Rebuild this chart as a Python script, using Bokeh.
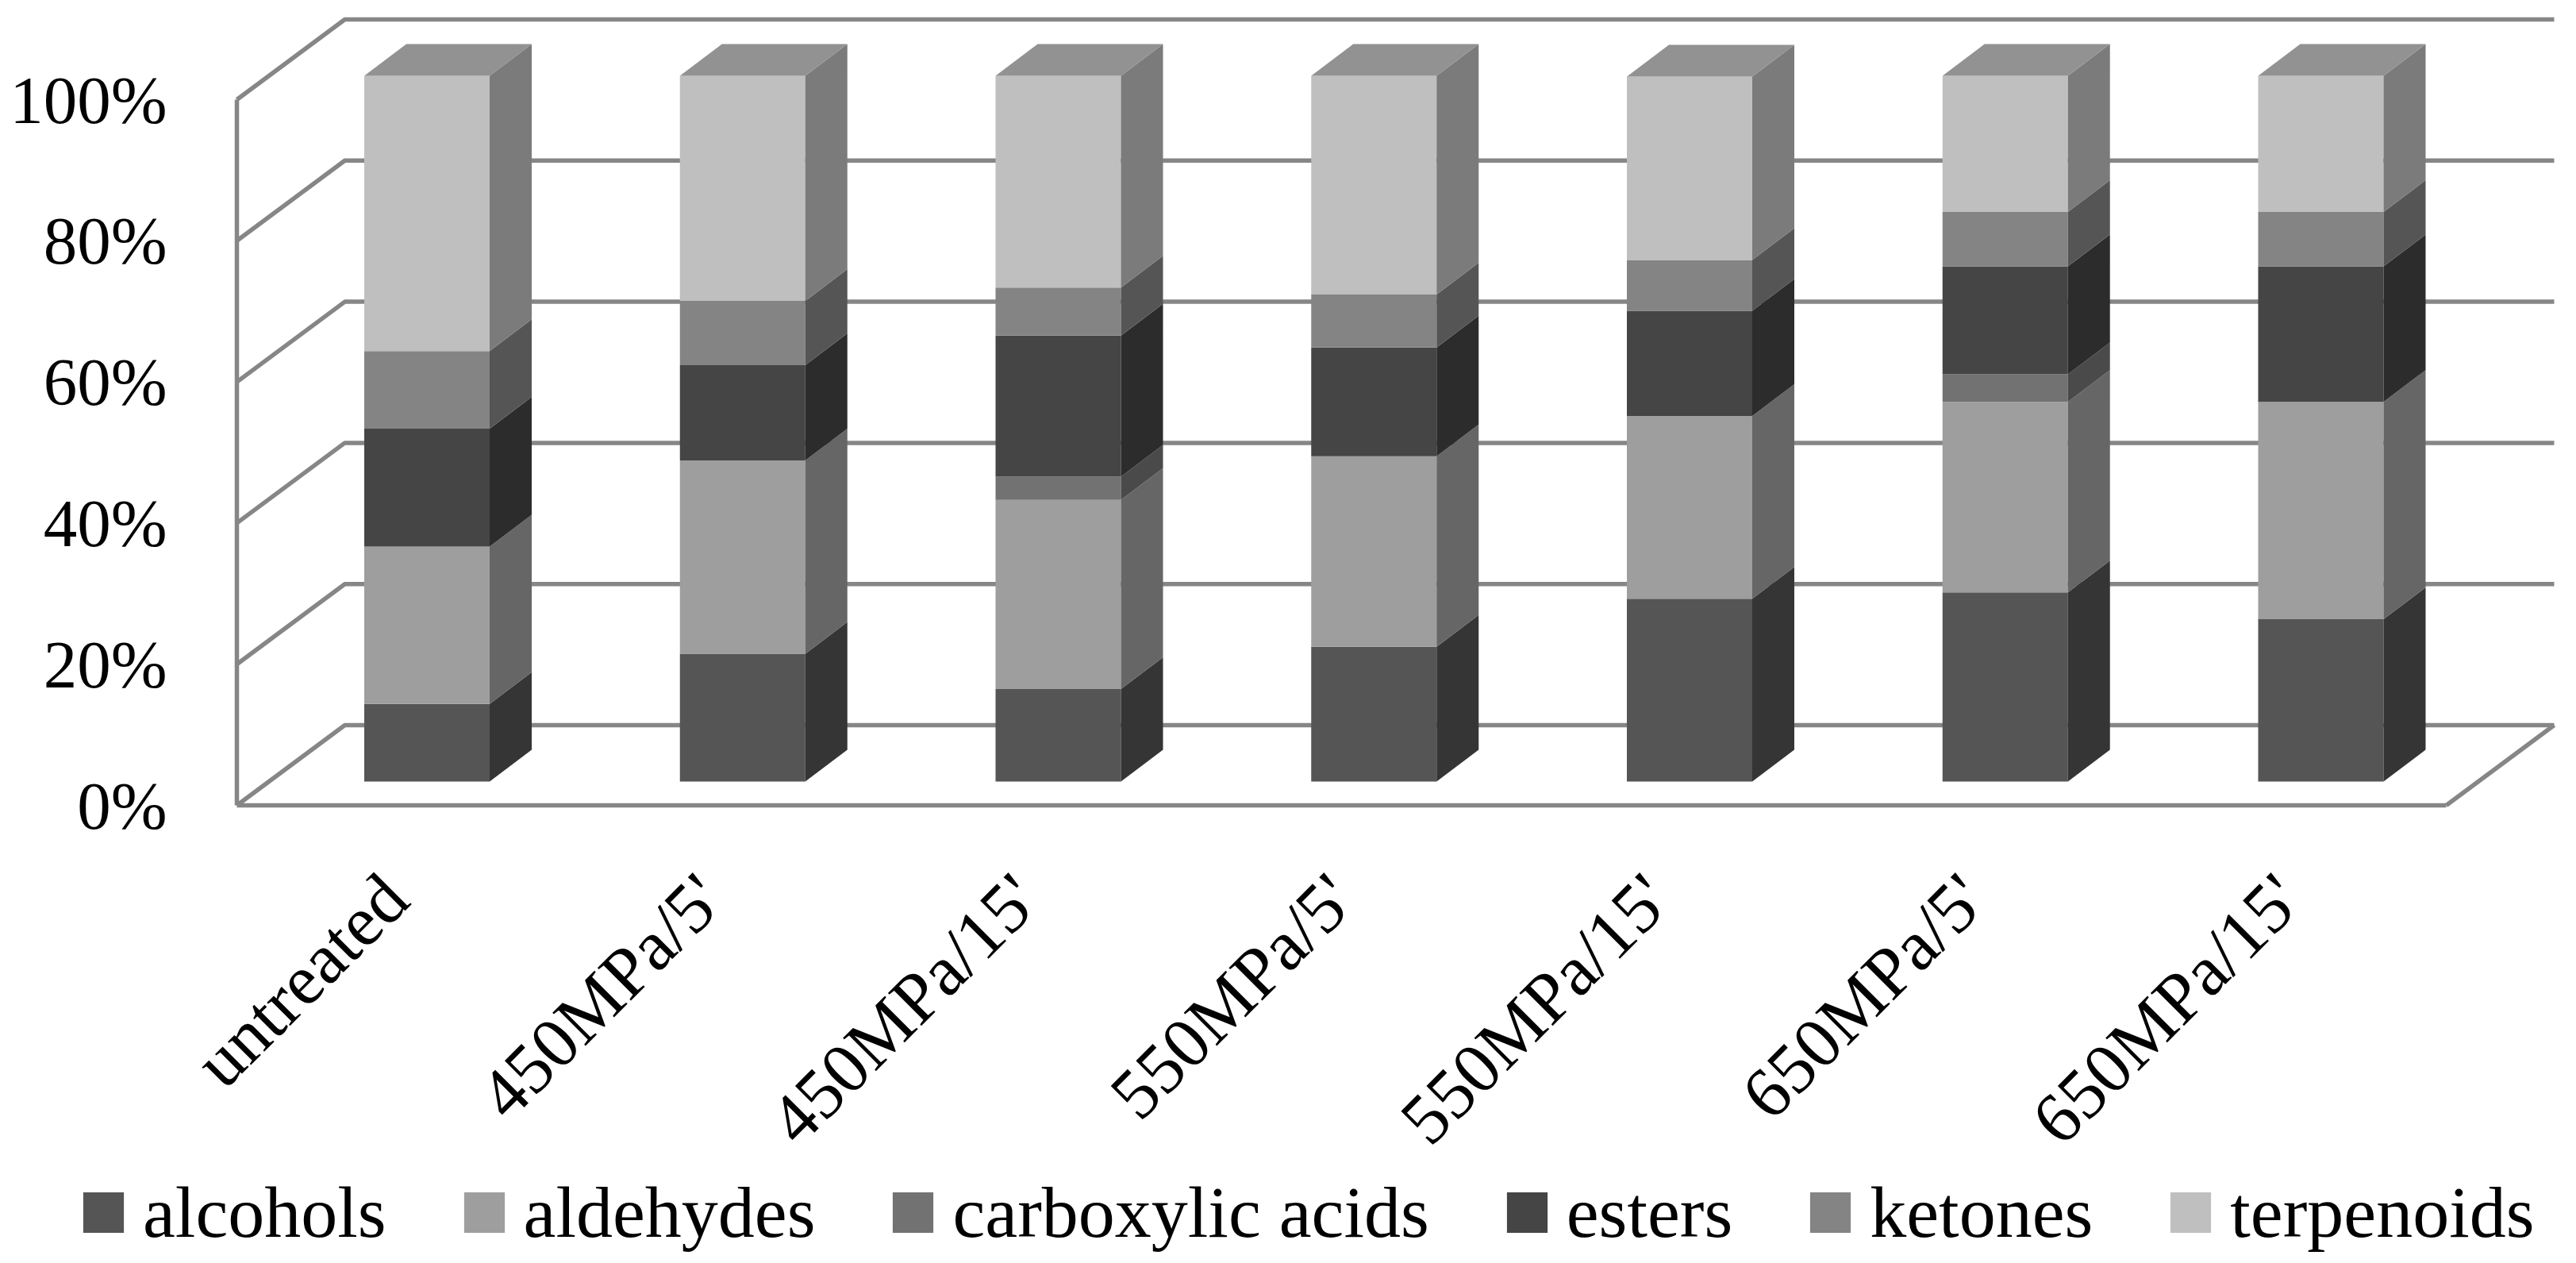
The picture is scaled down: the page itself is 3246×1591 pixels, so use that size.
from bokeh.embed import file_html
from bokeh.resources import INLINE
from bokeh.plotting import figure
from bokeh.models import Range1d, FixedTicker, Legend, LegendItem, ColumnDataSource

categories = ["untreated", "450MPa/5'", "450MPa/15'", "550MPa/5'", "550MPa/15'", "650MPa/5'", "650MPa/15'"]
alcohols = [11.0, 18.1, 13.1, 19.1, 25.9, 26.8, 23.0]
aldehydes = [22.3, 27.4, 26.8, 27.0, 25.9, 27.0, 30.8]
carboxylic_acids = [0.0, 0.0, 3.3, 0.0, 0.0, 3.9, 0.0]
esters = [16.7, 13.5, 20.0, 15.4, 14.9, 15.3, 19.2]
ketones = [11.0, 9.1, 6.8, 7.5, 7.2, 7.7, 7.7]
terpenoids = [39.0, 31.9, 30.0, 31.0, 26.0, 19.3, 19.3]
series_names = ["alcohols", "aldehydes", "carboxylic acids", "esters", "ketones", "terpenoids"]
series_values = [alcohols, aldehydes, carboxylic_acids, esters, ketones, terpenoids]
y_ticks = [0, 20, 40, 60, 80, 100]

front_colors = ["#555555", "#9e9e9e", "#727272", "#454545", "#848484", "#bfbfbf"]
side_colors = ["#353535", "#666666", "#4a4a4a", "#2c2c2c", "#555555", "#7b7b7b"]
top_color = "#929292"
wall_color = "#868686"
FONT = "Liberation Serif"

W, H = 3230, 1583
AXIS_X, AXIS_Y = 298, 1014     # position of the value/category axes inside the plot
PX_X, PX_Y = 397.75, 8.89
x0 = -239.5 / PX_X
front_right = (3082 - AXIS_X) / PX_X + x0
wall_dx, wall_dy = 136 / PX_X, 101 / PX_Y
bar_half = 79 / PX_X
bar_dx, bar_dy = 53 / PX_X, 40 / PX_Y
bar_base = 30 / PX_Y
label_shift = -40 / PX_X

p = figure(width=W, height=H, output_backend="svg", toolbar_location=None,
           x_range=Range1d(x0 - AXIS_X / PX_X, x0 + (W - AXIS_X) / PX_X),
           y_range=Range1d(-(H - AXIS_Y) / PX_Y, AXIS_Y / PX_Y),
           min_border_left=0, min_border_bottom=0, min_border_top=0, min_border_right=0,
           background_fill_color="white", border_fill_color="white", outline_line_color=None)
p.grid.visible = False

# back wall gridlines + floor
LW = 5.5
for v in y_ticks:
    p.line([x0, x0 + wall_dx, x0 + wall_dx + (front_right - x0)],
           [v, v + wall_dy, v + wall_dy], line_color=wall_color, line_width=LW)
p.line([front_right, front_right + wall_dx], [0, wall_dy], line_color=wall_color, line_width=LW)

# 3D stacked bars
items = []
n = len(categories)
bottoms = [bar_base] * n
for k, (name, vals) in enumerate(zip(series_names, series_values)):
    tops = [b + v for b, v in zip(bottoms, vals)]
    keep = [i for i in range(n) if vals[i] > 0]
    src = ColumnDataSource(dict(
        left=[i - bar_half for i in keep], right=[i + bar_half for i in keep],
        bottom=[bottoms[i] for i in keep], top=[tops[i] for i in keep]))
    r = p.quad(left="left", right="right", bottom="bottom", top="top", source=src,
               fill_color=front_colors[k], line_color=None)
    p.patches([[i + bar_half, i + bar_half + bar_dx, i + bar_half + bar_dx, i + bar_half] for i in keep],
              [[bottoms[i], bottoms[i] + bar_dy, tops[i] + bar_dy, tops[i]] for i in keep],
              fill_color=side_colors[k], line_color=None)
    items.append(LegendItem(label=name, renderers=[r]))
    bottoms = tops

p.patches([[i - bar_half, i - bar_half + bar_dx, i + bar_half + bar_dx, i + bar_half] for i in range(n)],
          [[bottoms[i], bottoms[i] + bar_dy, bottoms[i] + bar_dy, bottoms[i]] for i in range(n)],
          fill_color=top_color, line_color=None)

# axes, fixed at the chart's origin inside the plot
ya = p.yaxis[0]
ya.fixed_location = x0
ya.ticker = FixedTicker(ticks=y_ticks)
ya.major_label_overrides = {v: f"{v}%" for v in y_ticks}
ya.axis_line_color = wall_color
ya.axis_line_width = LW
ya.bounds = (0, 100)
ya.major_tick_line_color = None
ya.minor_tick_line_color = None
ya.major_tick_out = 0
ya.major_label_standoff = 88
ya.major_label_text_font = FONT
ya.major_label_text_font_size = "85px"
ya.major_label_text_color = "black"

xa = p.xaxis[0]
xa.fixed_location = 0
tick_pos = [i + label_shift for i in range(n)]
xa.ticker = FixedTicker(ticks=tick_pos)
xa.major_label_overrides = {t: c for t, c in zip(tick_pos, categories)}
xa.major_label_orientation = 0.7854
xa.axis_line_color = wall_color
xa.axis_line_width = LW
xa.bounds = (x0, front_right)
xa.major_tick_line_color = None
xa.minor_tick_line_color = None
xa.major_tick_out = 0
xa.major_label_standoff = 102
xa.major_label_text_font = FONT
xa.major_label_text_font_size = "90px"
xa.major_label_text_color = "black"

legend = Legend(items=items, orientation="horizontal", location=(98, H - 1580),
                glyph_width=64, glyph_height=64, label_standoff=18, spacing=91,
                margin=0, padding=0, border_line_color=None, background_fill_alpha=0,
                label_text_font=FONT, label_text_font_size="92px", label_text_color="black",
                label_height=64)
p.add_layout(legend, "center")

open("out.html", "w").write(file_html(p, INLINE))
